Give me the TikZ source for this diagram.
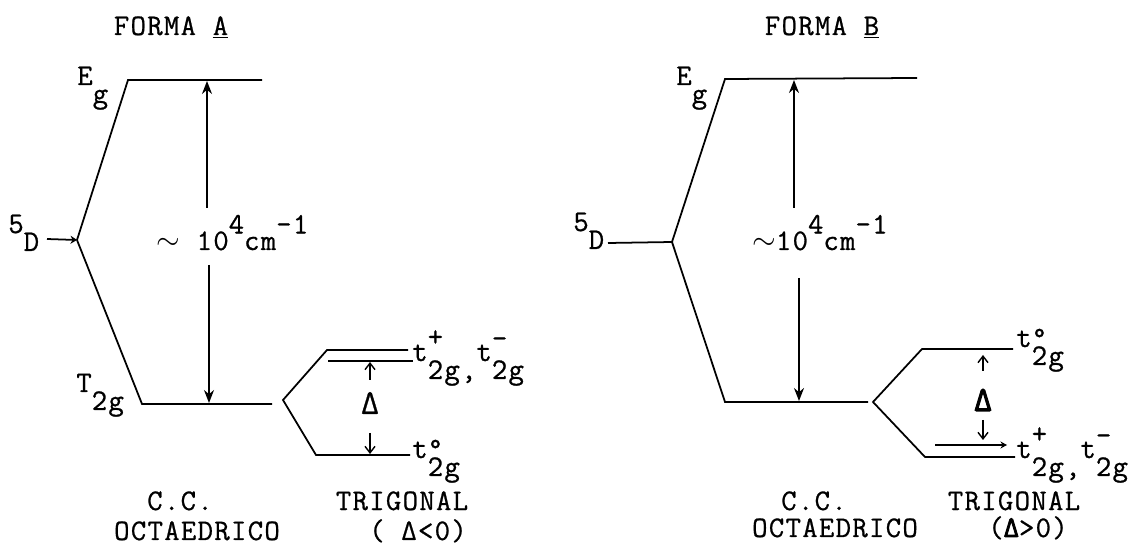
\documentclass[tikz,border=0pt]{standalone}
\usepackage{fontspec}
\setmainfont{Latin Modern Mono}[LetterSpace=4.4, FakeBold=0.8]
\newfontfamily\heavytt{Latin Modern Mono}[FakeBold=3]
\usetikzlibrary{arrows.meta}
\newcommand\dnx[1]{\raisebox{-0.6em}{#1}}
\newcommand\upx[1]{\raisebox{0.55em}{#1}}
\newcommand\tlab[2]{t\rlap{#1}\raisebox{-0.6em}{#2}}
\tikzset{
  lvl/.style={line width=1pt},
  bigarr/.style={line width=0.9pt,-{Stealth[length=2.6mm,width=2mm]}},
  smallarr/.style={line width=0.8pt,-{Straight Barb[length=1.3mm,width=2mm]}},
  lab/.style={inner sep=0pt, font=\fontsize{17}{20}\selectfont},
  dlt/.style={inner sep=0pt, font=\fontsize{20}{24}\selectfont}
}
\begin{document}
\begin{tikzpicture}[x=0.02cm,y=-0.02cm]
\useasboundingbox (0,0) rectangle (1143,550);
% ================= FORMA A =================
\node[lab,anchor=base] (titA) at (171,35) {FORMA \underline{A}};
\node[lab,anchor=base west] (EgA) at (77,85) {E\dnx{g}};
\node[lab,anchor=base west] (DA) at (8,233) {5\dnx{D}};
\node[lab,anchor=base west] (TA) at (76,392) {T\dnx{2g}};
\coordinate (dA0) at (47,239);
\coordinate (vA) at (77,240);
\coordinate (eA1) at (128,80);
\coordinate (eA2) at (262,80);
\coordinate (tA1) at (142,404);
\coordinate (tA2) at (272,404);
\draw[lvl] (vA) -- (eA1) -- (eA2);
\draw[lvl] (vA) -- (tA1) -- (tA2);
\draw[line width=1pt,-{Stealth[length=1.3mm,width=1.6mm]}] (dA0) -- (vA);
% big arrow
\node[lab,anchor=base west] (gapA) at (156,250) {$\sim$ 10\upx{4}cm\upx{-1}};
\coordinate (aA1) at (207,208);
\coordinate (aA2) at (207,81);
\coordinate (aA3) at (209,265);
\coordinate (aA4) at (209,403);
\draw[bigarr] (aA1) -- (aA2);
\draw[bigarr] (aA3) -- (aA4);
% trigonal A
\coordinate (sA) at (283,400);
\coordinate (uA1) at (327,350);
\coordinate (uA2) at (408,350);
\coordinate (mA1) at (328,361);
\coordinate (mA2) at (413,361);
\coordinate (lA1) at (316,455);
\coordinate (lA2) at (410,455);
\draw[lvl] (uA2) -- (uA1) -- (sA) -- (lA1) -- (lA2);
\draw[lvl] (mA1) -- (mA2);
\node[dlt] (DeltaA) at (370,403) {Δ};
\coordinate (dAu1) at (370,380);
\coordinate (dAu2) at (370,362);
\coordinate (dAd1) at (370,433);
\coordinate (dAd2) at (370,454);
\draw[smallarr] (dAu1) -- (dAu2);
\draw[smallarr] (dAd1) -- (dAd2);
\node[lab,anchor=base west] (tpmA) at (412,361) {\tlab{\raisebox{0.5em}{+}}{2g,}\tlab{\raisebox{0.45em}{-}}{2g}};
\node[lab,anchor=base west] (t0A) at (412,458) {\tlab{°}{2g}};
\node[lab,anchor=base] (ccA) at (180,510) {C.C.};
\node[lab,anchor=base] (ocA) at (197,540) {OCTAEDRICO};
\node[lab,anchor=base] (trA) at (402,510) {TRIGONAL};
\node[lab,anchor=base] (dcA) at (418,540) {( Δ<0)};
% ================= FORMA B =================
\node[lab,anchor=base] (titB) at (822,35) {FORMA \underline{B}};
\node[lab,anchor=base west] (EgB) at (676,85) {E\dnx{g}};
\node[lab,anchor=base west] (DB) at (573,231) {5\dnx{D}};
\coordinate (dB0) at (608,243);
\coordinate (vB) at (672,242);
\coordinate (eB1) at (725,79);
\coordinate (eB2) at (917,78);
\coordinate (tB1) at (725,402);
\coordinate (tB2) at (868,402);
\draw[lvl] (dB0) -- (vB);
\draw[lvl] (vB) -- (eB1) -- (eB2);
\draw[lvl] (vB) -- (tB1) -- (tB2);
\node[lab,anchor=base west] (gapB) at (752,250) {$\sim$10\upx{4}cm\upx{-1}};
\coordinate (aB1) at (794,208);
\coordinate (aB2) at (794,80);
\coordinate (aB3) at (799,278);
\coordinate (aB4) at (799,401);
\draw[bigarr] (aB1) -- (aB2);
\draw[bigarr] (aB3) -- (aB4);
% trigonal B
\coordinate (sB) at (873,402);
\coordinate (uB1) at (922,349);
\coordinate (uB2) at (1013,349);
\coordinate (lB1) at (925,457);
\coordinate (lB2) at (1015,457);
\coordinate (mB1) at (935,445);
\coordinate (mB2) at (1007,445);
\draw[lvl] (uB2) -- (uB1) -- (sB) -- (lB1) -- (lB2);
\draw[line width=1pt,-{Stealth[length=1.3mm,width=1.4mm]}] (mB1) -- (mB2);
\node[dlt] (DeltaB) at (983,400) {\heavytt Δ};
\coordinate (dBu1) at (983,371);
\coordinate (dBu2) at (983,355);
\coordinate (dBd1) at (983,420);
\coordinate (dBd2) at (983,440);
\draw[smallarr] (dBu1) -- (dBu2);
\draw[smallarr] (dBd1) -- (dBd2);
\node[lab,anchor=base west] (t0B) at (1016,347) {\tlab{°}{2g}};
\node[lab,anchor=base west] (tpmB) at (1016,458) {\tlab{\raisebox{0.5em}{+}}{2g,}\tlab{\raisebox{0.45em}{-}}{2g}};
\node[lab,anchor=base] (ccB) at (814,510) {C.C.};
\node[lab,anchor=base] (ocB) at (835,537) {OCTAEDRICO};
\node[lab,anchor=base] (trB) at (1014,510) {TRIGONAL};
\node[lab,anchor=base] (dcB) at (1028,537) {({\heavytt Δ}>0)};
\end{tikzpicture}
\end{document}
